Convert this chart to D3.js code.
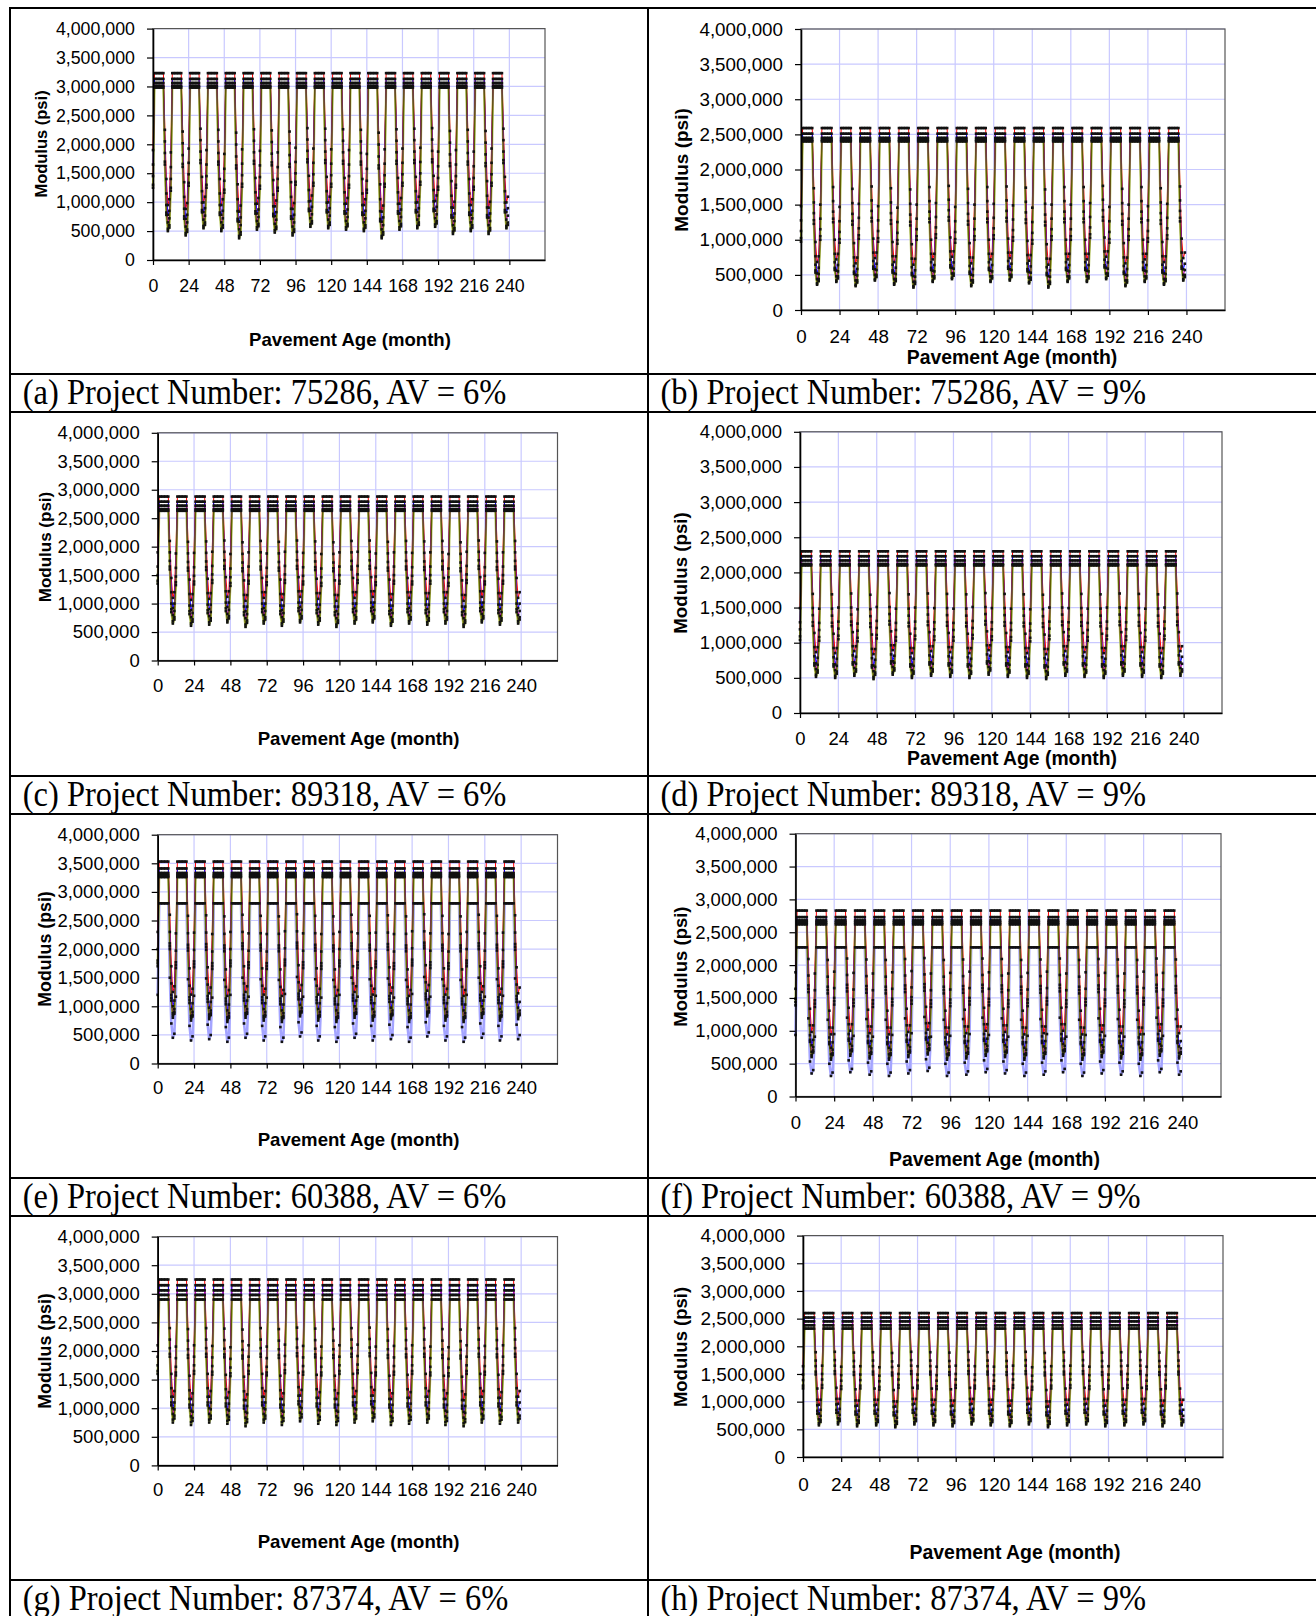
<!DOCTYPE html>
<html><head><meta charset="utf-8">
<script src="https://cdn.jsdelivr.net/npm/d3@7"></script>
<style>body{margin:0;background:#fff} svg{display:block}</style>
</head><body>
<svg id="c" width="1316" height="1616"></svg>
<script>
// ---------------- DATA ----------------
const yTicks = [0, 500000, 1000000, 1500000, 2000000, 2500000, 3000000, 3500000, 4000000];
const xTicks = [0, 24, 48, 72, 96, 120, 144, 168, 192, 216, 240];
const nYears = 20;
const captions = [
  "(a) Project Number: 75286, AV = 6%", "(b) Project Number: 75286, AV = 9%",
  "(c) Project Number: 89318, AV = 6%", "(d) Project Number: 89318, AV = 9%",
  "(e) Project Number: 60388, AV = 6%", "(f) Project Number: 60388, AV = 9%",
  "(g) Project Number: 87374, AV = 6%", "(h) Project Number: 87374, AV = 9%"
];
// typical year (month 0..11) per series, psi
const profileA = [
  [1900000,3230000,3230000,3230000,3230000,3230000,3230000,3230000,2250000,1400000,950000,1050000],
  [1650000,3130000,3130000,3130000,3130000,3130000,3130000,3130000,2050000,1150000,780000,850000],
  [1450000,3060000,3060000,3060000,3060000,3060000,3060000,3060000,1850000,950000,650000,720000],
  [1300000,3010000,3010000,3010000,3010000,3010000,3010000,3010000,1700000,820000,540000,600000],
  [1250000,2980000,2980000,2980000,2980000,2980000,2980000,2980000,1650000,780000,500000,560000]
];
const profileB = [
  [1500000,2590000,2590000,2590000,2590000,2590000,2590000,2590000,1750000,1000000,720000,800000],
  [1300000,2510000,2510000,2510000,2510000,2510000,2510000,2510000,1550000,800000,560000,640000],
  [1150000,2450000,2450000,2450000,2450000,2450000,2450000,2450000,1400000,680000,480000,550000],
  [1050000,2420000,2420000,2420000,2420000,2420000,2420000,2420000,1300000,600000,420000,480000],
  [1000000,2400000,2400000,2400000,2400000,2400000,2400000,2400000,1250000,570000,400000,450000]
];
const profileC = [
  [1900000,2880000,2880000,2880000,2880000,2880000,2880000,2880000,2100000,1450000,1100000,1200000],
  [1650000,2790000,2790000,2790000,2790000,2790000,2790000,2790000,1900000,1200000,920000,1000000],
  [1500000,2720000,2720000,2720000,2720000,2720000,2720000,2720000,1750000,1000000,800000,870000],
  [1400000,2660000,2660000,2660000,2660000,2660000,2660000,2660000,1650000,900000,690000,760000],
  [1350000,2630000,2630000,2630000,2630000,2630000,2630000,2630000,1600000,850000,650000,720000]
];
const profileD = [
  [1500000,2300000,2300000,2300000,2300000,2300000,2300000,2300000,1700000,1150000,880000,950000],
  [1300000,2230000,2230000,2230000,2230000,2230000,2230000,2230000,1500000,950000,720000,800000],
  [1200000,2170000,2170000,2170000,2170000,2170000,2170000,2170000,1400000,820000,640000,700000],
  [1100000,2120000,2120000,2120000,2120000,2120000,2120000,2120000,1300000,720000,560000,620000],
  [1050000,2100000,2100000,2100000,2100000,2100000,2100000,2100000,1250000,690000,530000,590000]
];
const profileE = [
  [2300000,3530000,3530000,3530000,3530000,3530000,3530000,3530000,2600000,1700000,1250000,1350000],
  [2000000,3410000,3410000,3410000,3410000,3410000,3410000,3410000,2300000,1400000,1000000,1100000],
  [1800000,3330000,3330000,3330000,3330000,3330000,3330000,3330000,2100000,1200000,880000,950000],
  [1700000,3260000,3260000,3260000,3260000,3260000,3260000,3260000,2000000,1100000,800000,870000],
  [1750000,3290000,3290000,3290000,3290000,3290000,3290000,3290000,2050000,1150000,840000,900000],
  [1200000,2800000,2800000,2800000,2800000,2800000,2800000,2800000,1500000,700000,450000,520000]
];
const profileF = [
  [1900000,2830000,2830000,2830000,2830000,2830000,2830000,2830000,2100000,1350000,1000000,1100000],
  [1650000,2730000,2730000,2730000,2730000,2730000,2730000,2730000,1850000,1100000,800000,880000],
  [1500000,2680000,2680000,2680000,2680000,2680000,2680000,2680000,1700000,950000,700000,770000],
  [1400000,2620000,2620000,2620000,2620000,2620000,2620000,2620000,1600000,850000,620000,690000],
  [1450000,2650000,2650000,2650000,2650000,2650000,2650000,2650000,1650000,880000,650000,720000],
  [950000,2270000,2270000,2270000,2270000,2270000,2270000,2270000,1200000,550000,370000,420000]
];
const profileG = [
  [2100000,3250000,3250000,3250000,3250000,3250000,3250000,3250000,2400000,1600000,1200000,1300000],
  [1900000,3150000,3150000,3150000,3150000,3150000,3150000,3150000,2200000,1350000,1000000,1100000],
  [1750000,3060000,3060000,3060000,3060000,3060000,3060000,3060000,2050000,1200000,900000,980000],
  [1650000,2980000,2980000,2980000,2980000,2980000,2980000,2980000,1950000,1100000,800000,870000],
  [1600000,2900000,2900000,2900000,2900000,2900000,2900000,2900000,1900000,1050000,750000,820000]
];
const profileH = [
  [1650000,2600000,2600000,2600000,2600000,2600000,2600000,2600000,1900000,1250000,960000,1050000],
  [1500000,2520000,2520000,2520000,2520000,2520000,2520000,2520000,1750000,1050000,800000,870000],
  [1400000,2450000,2450000,2450000,2450000,2450000,2450000,2450000,1650000,950000,700000,760000],
  [1300000,2380000,2380000,2380000,2380000,2380000,2380000,2380000,1550000,850000,630000,690000],
  [1250000,2320000,2320000,2320000,2320000,2320000,2320000,2320000,1500000,800000,590000,650000]
];
// year-to-year depth of the warm-season dip (read from the trough depths)
const adjA = [1.00,1.03,0.98,1.00,1.05,0.99,1.01,1.03,0.97,0.98,0.99,1.00,1.05,0.99,0.98,0.97,1.02,1.00,1.02,0.98];
const adjB = [1.02,1.00,1.03,0.99,1.02,1.04,1.00,0.98,1.03,1.00,0.99,1.01,1.04,1.00,1.00,0.98,1.03,1.00,1.02,0.99];
const adjC = [1.00,1.02,1.01,0.99,1.03,1.00,1.02,0.99,1.01,1.03,1.00,0.99,1.02,1.00,1.01,1.00,1.03,0.99,1.01,1.00];
const adjD = [1.01,1.02,1.00,1.03,0.99,1.02,1.00,1.01,1.02,0.99,1.01,1.02,1.03,1.00,1.01,1.02,1.00,1.01,1.02,1.00];
const adjE = [1.00,1.02,1.01,1.03,1.00,1.02,1.03,0.99,1.02,1.03,1.00,1.02,1.01,1.03,0.99,1.02,1.03,1.00,1.02,1.01];
const adjF = [1.01,1.03,1.00,1.02,1.03,1.01,0.99,1.03,1.02,1.00,1.01,1.03,1.02,1.00,1.03,1.01,1.02,1.03,1.00,1.02];
const adjG = [1.00,1.02,1.00,1.01,1.03,1.00,1.02,0.99,1.01,1.02,1.00,0.99,1.02,1.01,1.00,1.02,1.03,1.00,1.01,1.00];
const adjH = [1.01,1.00,1.02,1.01,1.03,1.00,1.01,1.02,1.00,1.01,1.02,1.00,1.03,1.01,1.00,1.02,1.01,1.00,1.02,1.01];

const profiles = [profileA, profileB, profileC, profileD, profileE, profileF, profileG, profileH];
const adjs = [adjA, adjB, adjC, adjD, adjE, adjF, adjG, adjH];

// ---------------- LAYOUT / STYLE ----------------
const layouts = [
  {L:153,  R:545,  T:28.6,  B:260,    tf:17.8, xd:25.5, mx:41,  my:144,   mf:16.5, px:350,   py:339,    pf:18.6},
  {L:801,  R:1225, T:29,    B:310,    tf:18.8, xd:26,   mx:681, my:170,   mf:19,   px:1012,  py:356.5,  pf:19.4},
  {L:157.7,R:557.5,T:432.8, B:660.5,  tf:18.5, xd:25.5, mx:45,  my:547,   mf:17,   px:358.6, py:738,    pf:18.6},
  {L:800,  R:1222, T:431.8, B:713,    tf:18.5, xd:26,   mx:680, my:573,   mf:18.7, px:1012,  py:758,    pf:19.35},
  {L:157.7,R:557.5,T:834.7, B:1063.5, tf:18.5, xd:24.5, mx:45,  my:949,   mf:17.8, px:358.6, py:1139.7, pf:18.6},
  {L:795.5,R:1221, T:833.7, B:1096.5, tf:18.5, xd:26.5, mx:680, my:966.6, mf:18.5, px:994.5, py:1159,   pf:19.45},
  {L:157.7,R:557.5,T:1236.6,B:1465.4, tf:18.5, xd:24.6, mx:45,  my:1351,  mf:17.8, px:358.6, py:1541.6, pf:18.6},
  {L:803,  R:1223, T:1235.6,B:1457,   tf:19,   xd:27,   mx:680, my:1347,  mf:18.5, px:1015,  py:1552,   pf:19.45}
];
// index: 0 red, 1 blue, 2 magenta, 3 olive, 4 yellow-green, 5 light blue
const seriesStyle = [
  {c:"#ff0000", w:1},
  {c:"#0000ff", w:1},
  {c:"#cc00cc", w:1},
  {c:"#5e5e00", w:1.3},
  {c:"#b4c45a", w:2.2},
  {c:"#a4a4ff", w:2.6}
];
const drawOrder = [5, 4, 0, 1, 2, 3];
const SANS = "'Liberation Sans', Arial, sans-serif";
const SERIF = "'Liberation Serif', 'Times New Roman', serif";

const svg = d3.select("#c");
svg.append("rect").attr("width",1316).attr("height",1616).attr("fill","#fff");

const xDomainMax = 264;
const months = d3.range(0, nYears * 12);

profiles.forEach((prof, pi) => {
  const lay = layouts[pi];
  const adj = adjs[pi];
  const x = d3.scaleLinear().domain([0, xDomainMax]).range([lay.L, lay.R]);
  const y = d3.scaleLinear().domain([0, 4000000]).range([lay.B, lay.T]);
  const g = svg.append("g");

  // gridlines
  g.selectAll(".hg").data(yTicks.slice(1)).enter().append("line")
    .attr("x1", lay.L).attr("x2", lay.R).attr("y1", d => y(d)).attr("y2", d => y(d))
    .attr("stroke", "#c9c9ff").attr("stroke-width", 1.2);
  g.selectAll(".vg").data(xTicks.slice(1)).enter().append("line")
    .attr("y1", lay.T).attr("y2", lay.B).attr("x1", d => x(d)).attr("x2", d => x(d))
    .attr("stroke", "#c9c9ff").attr("stroke-width", 1.2);
  // plot border
  g.append("rect").attr("x", lay.L).attr("y", lay.T).attr("width", lay.R - lay.L).attr("height", lay.B - lay.T)
    .attr("fill", "none").attr("stroke", "#555").attr("stroke-width", 1.2);

  // series
  const seriesData = prof.map((p) => {
    const cap = d3.max(p);
    return months.map(t => {
      const m = t % 12, yr = Math.floor(t / 12);
      return {t, v: cap - (cap - p[m]) * adj[yr]};
    });
  });
  const line = d3.line().x(d => x(d.t)).y(d => y(d.v));
  drawOrder.forEach(si => {
    if (!seriesData[si]) return;
    g.append("path").datum(seriesData[si]).attr("d", line)
      .attr("fill", "none").attr("stroke", seriesStyle[si].c).attr("stroke-width", seriesStyle[si].w)
      .attr("stroke-linejoin", "round");
  });
  seriesData.forEach(sd => {
    g.selectAll(null).data(sd).enter().append("rect")
      .attr("x", d => x(d.t) - 1.3).attr("y", d => y(d.v) - 1.3)
      .attr("width", 2.6).attr("height", 2.6).attr("fill", "#111");
  });

  // axes
  const ya = g.append("g").attr("transform", `translate(${lay.L},0)`)
    .call(d3.axisLeft(y).tickValues(yTicks).tickFormat(d3.format(",")).tickSizeInner(6).tickSizeOuter(0).tickPadding(12));
  const xa = g.append("g").attr("transform", `translate(0,${lay.B})`)
    .call(d3.axisBottom(x).tickValues(xTicks).tickFormat(d3.format("d")).tickSizeInner(5).tickSizeOuter(0));
  [ya, xa].forEach(a => {
    a.select(".domain").attr("stroke", "#000").attr("stroke-width", 1.6);
    a.selectAll(".tick line").attr("stroke", "#000").attr("stroke-width", 1.2);
    a.selectAll("text").attr("font-family", SANS).attr("font-size", lay.tf).attr("fill", "#000");
  });
  xa.selectAll("text").attr("y", lay.xd).attr("dy", "0.35em");

  // axis titles
  g.append("text").attr("transform", `translate(${lay.mx},${lay.my}) rotate(-90)`)
    .attr("text-anchor", "middle").attr("dominant-baseline", "central")
    .attr("font-family", SANS).attr("font-weight", "bold").attr("font-size", lay.mf)
    .text("Modulus (psi)");
  g.append("text").attr("x", lay.px).attr("y", lay.py)
    .attr("text-anchor", "middle").attr("dominant-baseline", "central")
    .attr("font-family", SANS).attr("font-weight", "bold").attr("font-size", lay.pf)
    .text("Pavement Age (month)");
});

// ---------------- TABLE ----------------
const hLines = [8, 374, 412, 776, 814, 1178, 1216, 1580];
const vLines = [10, 648];
const tbl = svg.append("g").attr("stroke", "#000").attr("stroke-width", 2);
hLines.forEach(yy => tbl.append("line").attr("x1", 9).attr("x2", 1316).attr("y1", yy).attr("y2", yy));
vLines.forEach(xx => tbl.append("line").attr("x1", xx).attr("x2", xx).attr("y1", 7).attr("y2", 1616));

const capRows = [374, 776, 1178, 1580];
captions.forEach((txt, i) => {
  const row = Math.floor(i / 2), col = i % 2;
  svg.append("text")
    .attr("transform", `translate(${col === 0 ? 22.7 : 660.5},${capRows[row] + 30}) scale(1,1.1)`)
    .attr("font-family", SERIF).attr("font-size", 32.5).attr("fill", "#000").text(txt);
});
</script>
</body></html>
